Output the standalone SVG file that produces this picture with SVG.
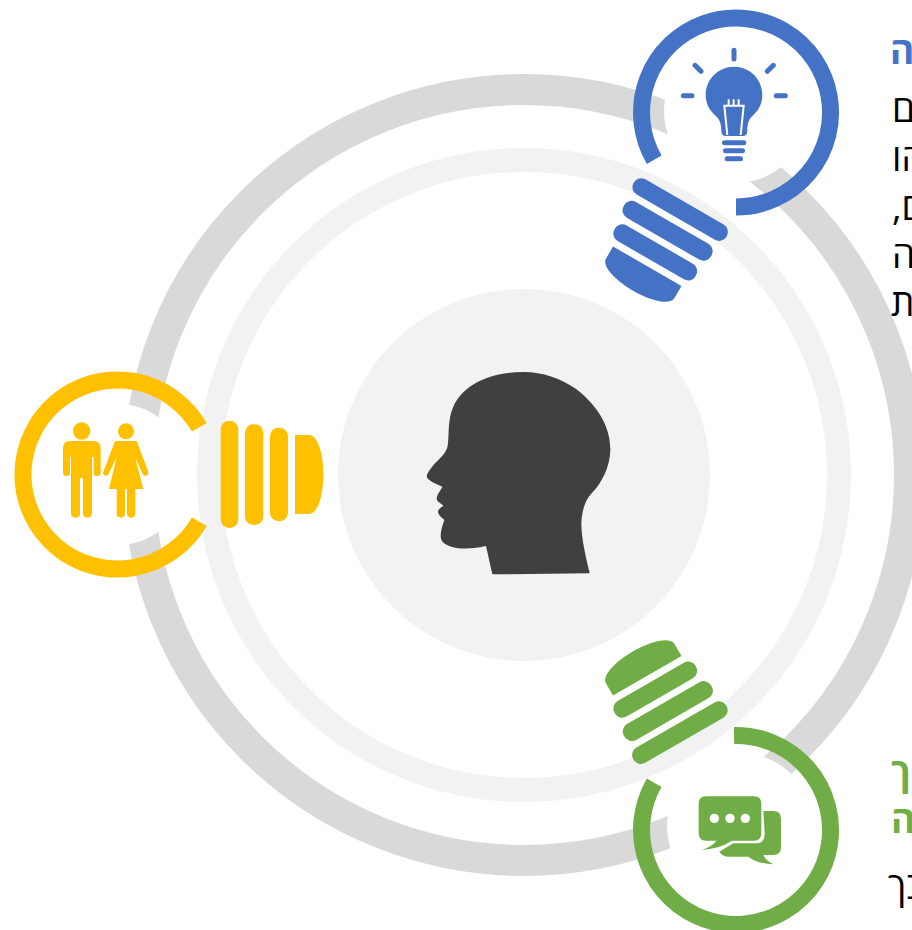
<svg xmlns="http://www.w3.org/2000/svg" width="912" height="930" viewBox="0 0 912 930">
<style>
.ring{fill:none;stroke-width:17}
.disc{fill:#fff}
.t{font-family:"Open Sans","Noto Sans","DejaVu Sans",sans-serif;font-size:37px;fill:#000;direction:rtl;text-anchor:end}
.h{font-weight:700}
</style>
<defs>
<g id="base">
<rect x="103.200" y="-53.800" width="17.600" height="107.300" rx="8.500"/>
<rect x="127.500" y="-50.200" width="18.300" height="100.700" rx="8.500"/>
<rect x="152.500" y="-46.800" width="18" height="93.600" rx="8.500"/>
<path d="M177.500,-39.500H191.500C200.500,-39.500 205.800,-20 205.800,0C205.800,20 200.500,39.500 191.500,39.500H177.500Z"/>
</g>
</defs>
<rect width="912" height="930" fill="#fff"/>
<g id="rings">
<circle cx="524" cy="475" r="385.500" fill="none" stroke="#D9D9D9" stroke-width="31"/>
<circle cx="524" cy="475" r="315" fill="none" stroke="#F2F2F2" stroke-width="24"/>
</g>
<g id="center-node">
<circle cx="524" cy="475" r="186" fill="#F2F2F2"/>
<path fill="#404040" transform="translate(410,360) scale(.33333)" d="M340,36C400,36 450,55 495,85C550,125 602,190 601,270C600,320 575,370 545,400C525,422 516,450 514,490C514,540 530,600 539,640L247,643L228,558C200,565 165,568 135,563C105,557 92,545 92,528C92,510 98,495 103,480C95,472 85,465 84,455C85,447 93,442 100,437C92,430 80,425 80,415C82,400 92,392 97,380C80,372 60,365 52,354C47,345 55,335 75,310C90,295 108,280 113,258C118,225 112,180 130,140C155,85 220,38 340,36Z"/>
</g>
<g id="node-blue">
<circle class="disc" cx="736" cy="111" r="72"/>
<path class="ring" stroke="#4472C4" d="M736,207A94.500,94.500 0 1 0 654.200,159.750"/>
<use href="#base" fill="#4472C4" transform="translate(736,112.500) rotate(120)"/>
<g transform="translate(670,40) scale(.33333)">
<path fill="#4472C4" d="M192,80C240,80 277,118 277,165C277,195 262,215 245,230C235,240 232,255 232,272Q232,288 218,288H168Q154,288 154,272C154,255 150,240 140,230C122,215 107,195 107,165C107,118 145,80 192,80Z"/>
<path fill="none" stroke="#fff" stroke-width="6" d="M172,285L163,197H221L212,285M176,178V196M191,178V196M206,178V196"/>
<g fill="#4472C4"><rect x="156" y="301" width="73" height="15" rx="7.500"/><rect x="159" y="325" width="66" height="15" rx="7.500"/><rect x="164" y="349" width="55" height="15" rx="7.500"/></g>
<path fill="none" stroke="#4472C4" stroke-width="15" stroke-linecap="round" d="M192,31V57M40,167H66M319,167H346M75,76L93,94M310,76L292,94"/>
</g>
<text class="t h" x="890" y="64" style="fill:#4472C4">ה</text>
<text class="t" x="892" y="122">ם</text>
<text class="t" x="892" y="171">הו</text>
<text class="t" x="892" y="220">ם,</text>
<text class="t" x="892" y="268">ה</text>
<text class="t" x="891" y="316">ת</text>
</g>
<g id="node-yellow">
<circle class="disc" cx="117.500" cy="474.500" r="70.500"/>
<path class="ring" stroke="#FFC000" d="M199.300,427.250A94.500,94.500 0 1 0 199.300,521.750"/>
<use href="#base" fill="#FFC000" transform="translate(117.500,474.500)"/>
<g transform="translate(0,360) scale(.33333)" fill="#FFC000">
<circle cx="245" cy="213" r="26"/>
<circle cx="378" cy="214" r="24"/>
<path d="M210,243H280Q302,243 302,265V338Q302,348 291,348Q281,348 281,338V290H276V460Q276,473 262,473Q249,473 249,460V355H240V460Q240,473 227,473Q213,473 213,460V290H210V338Q210,348 199,348Q189,348 189,338V265Q189,243 210,243Z"/>
<path d="M345,243H410L445,335Q447,345 437,348Q430,349 427,340L405,292L430,387H406V460Q406,473 393,473Q381,473 381,460V387H375V460Q375,473 362,473Q350,473 350,460V387H327L350,292L327,340Q323,349 315,347Q307,344 310,335Z"/>
</g>
</g>
<g id="node-green">
<circle class="disc" cx="740" cy="826" r="73"/>
<path class="ring" stroke="#70AD47" d="M734,735.500A94.500,94.500 0 1 1 654.200,782.750"/>
<use href="#base" fill="#70AD47" transform="translate(736,829.500) rotate(-120)"/>
<g transform="translate(600,630) scale(.33333)" fill="#70AD47">
<path d="M490,543H520Q543,543 543,566V652Q543,675 520,675H490Q497,692 520,703Q470,700 445,680H385Q368,680 358,665L400,640H470Q494,640 494,610Z"/>
<path stroke="#fff" stroke-width="10" paint-order="stroke" d="M318,499H462Q484,499 484,521V610Q484,632 462,632H395Q365,655 305,660Q335,650 350,632H318Q296,632 296,610V521Q296,499 318,499Z"/>
<g fill="#fff"><circle cx="343" cy="565" r="14"/><circle cx="390" cy="565" r="14"/><circle cx="436" cy="565" r="14"/></g>
</g>
<text class="t h" x="891" y="785" style="fill:#70AD47">ך</text>
<text class="t h" x="891" y="833" style="fill:#70AD47">ה</text>
<text class="t" x="888" y="899">בך</text>
</g>
</svg>
